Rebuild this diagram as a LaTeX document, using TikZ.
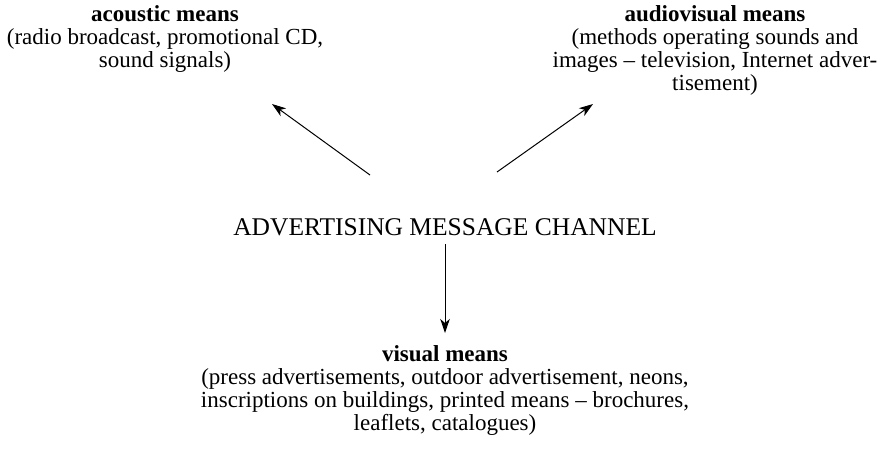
\documentclass[tikz,border=0pt]{standalone}
\usepackage{fontspec}
\setmainfont{Liberation Serif}
\usetikzlibrary{arrows.meta,calc}
\begin{document}
\begin{tikzpicture}[x=1pt,y=-1pt,
  txt/.style={align=center,inner sep=0pt,anchor=base,font=\fontsize{23}{23}\selectfont},
  arr/.style={-{Stealth[length=14pt,width=9.5pt,inset=4pt]},line width=1pt}]
\useasboundingbox (0,0) rectangle (890,451);
\node[txt] (acou) at (165,67) {\textbf{acoustic means}\\(radio broadcast, promotional CD,\\sound signals)};
\node[txt] (av) at (715,90) {\textbf{audiovisual means}\\(methods operating sounds and\\images -- television, Internet adver-\\tisement)};
\node[txt,font=\fontsize{25.5}{23}\selectfont] (chan) at (445,235) {ADVERTISING MESSAGE CHANNEL};
\node[txt] (vis) at (445,430) {\textbf{visual means}\\(press advertisements, outdoor advertisement, neons,\\inscriptions on buildings, printed means -- brochures,\\leaflets, catalogues)};
\draw[arr] ($(chan.base)+(-75,-60)$) -- ($(acou.base)+(107,37)$);
\draw[arr] ($(chan.base)+(52,-63)$) -- ($(av.base)+(-122,14)$);
\draw[arr] ($(chan.base)+(0,9)$) -- ($(vis.base)+(0,-97)$);
\end{tikzpicture}
\end{document}
